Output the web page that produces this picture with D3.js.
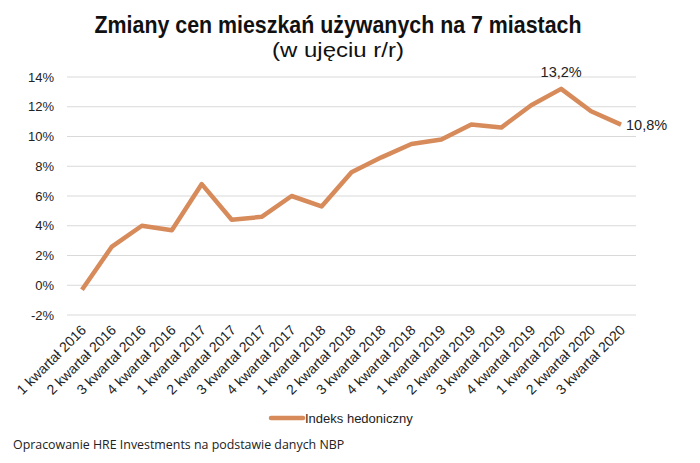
<!DOCTYPE html>
<html>
<head>
<meta charset="utf-8">
<script src="https://cdn.jsdelivr.net/npm/d3@7"></script>
<style>
  body { margin: 0; background: #fff; }
  svg { display: block; }
</style>
</head>
<body>
<svg id="chart" width="700" height="463"></svg>
<script>
const quarters = [
    "1 kwartał 2016", "2 kwartał 2016", "3 kwartał 2016", "4 kwartał 2016",
    "1 kwartał 2017", "2 kwartał 2017", "3 kwartał 2017", "4 kwartał 2017",
    "1 kwartał 2018", "2 kwartał 2018", "3 kwartał 2018", "4 kwartał 2018",
    "1 kwartał 2019", "2 kwartał 2019", "3 kwartał 2019", "4 kwartał 2019",
    "1 kwartał 2020", "2 kwartał 2020", "3 kwartał 2020"
];
const hedonicIndex = [-0.3, 2.6, 4.0, 3.7, 6.8, 4.4, 4.6, 6.0, 5.3, 7.6, 8.6, 9.5, 9.8, 10.8, 10.6, 12.1, 13.2, 11.7, 10.8];
const yTicks = [-2, 0, 2, 4, 6, 8, 10, 12, 14];
const labelledPoints = [16, 18];

const lineColor = "#d78a5a";
const svg = d3.select("#chart");

const margin = { top: 77, right: 64, bottom: 148, left: 67 };
const width = 700 - margin.left - margin.right;
const height = 463 - margin.top - margin.bottom;

const x = d3.scaleBand().domain(quarters).range([margin.left, margin.left + width]);
const y = d3.scaleLinear().domain([-2, 14]).range([margin.top + height, margin.top]);

const fmt = v => (Math.round(v * 10) / 10).toFixed(1).replace(".", ",") + "%";

// Title (condensed look via textLength)
svg.append("text")
    .attr("x", 338).attr("y", 33)
    .attr("text-anchor", "middle")
    .attr("font-family", "'Liberation Sans Narrow', 'Arial Narrow', 'Liberation Sans', Arial, sans-serif")
    .attr("font-weight", "bold")
    .attr("font-size", 24)
    .attr("textLength", 487)
    .attr("lengthAdjust", "spacingAndGlyphs")
    .attr("fill", "#111")
    .text("Zmiany cen mieszkań używanych na 7 miastach");

svg.append("text")
    .attr("x", 338).attr("y", 57)
    .attr("text-anchor", "middle")
    .attr("font-family", "'Liberation Sans Narrow', 'Arial Narrow', 'Liberation Sans', Arial, sans-serif")
    .attr("font-size", 21)
    .attr("textLength", 132)
    .attr("lengthAdjust", "spacingAndGlyphs")
    .attr("fill", "#111")
    .text("(w ujęciu r/r)");

// Grid
svg.append("g")
    .selectAll("line")
    .data(yTicks)
    .join("line")
    .attr("x1", margin.left).attr("x2", margin.left + width)
    .attr("y1", d => y(d)).attr("y2", d => y(d))
    .attr("stroke", "#d9d9d9")
    .attr("stroke-width", 1.2);

// Y axis labels
const yAxis = svg.append("g")
    .attr("transform", `translate(${margin.left - 8},0)`)
    .call(d3.axisLeft(y).tickValues(yTicks).tickSize(0).tickPadding(5).tickFormat(d => d + "%"));
yAxis.select(".domain").remove();
yAxis.selectAll("text")
    .attr("font-family", "'Liberation Sans', Arial, sans-serif")
    .attr("font-size", 13)
    .attr("fill", "#222");

// X axis labels
const xAxis = svg.append("g")
    .attr("transform", `translate(0,${margin.top + height})`)
    .call(d3.axisBottom(x).tickSize(0).tickPadding(0));
xAxis.select(".domain").remove();
xAxis.selectAll("text")
    .attr("font-family", "'Liberation Sans', Arial, sans-serif")
    .attr("font-size", 14)
    .attr("fill", "#222")
    .attr("text-anchor", "end")
    .attr("dy", null)
    .attr("y", 0)
    .attr("transform", "translate(5,16) rotate(-45)");

// Line
const line = d3.line()
    .x((d, i) => x(quarters[i]) + x.bandwidth() / 2)
    .y(d => y(d));

svg.append("path")
    .datum(hedonicIndex)
    .attr("d", line)
    .attr("fill", "none")
    .attr("stroke", lineColor)
    .attr("stroke-width", 4.5)
    .attr("stroke-linejoin", "round");

// Data labels
svg.append("g")
    .selectAll("text")
    .data(labelledPoints)
    .join("text")
    .attr("x", i => x(quarters[i]) + x.bandwidth() / 2 + (i === 18 ? 5 : 0))
    .attr("y", i => i === 18 ? y(hedonicIndex[i]) + 5 : y(hedonicIndex[i]) - 12)
    .attr("text-anchor", i => i === 18 ? "start" : "middle")
    .attr("font-family", "'Liberation Sans', Arial, sans-serif")
    .attr("font-size", 14.5)
    .attr("fill", "#222")
    .text(i => fmt(hedonicIndex[i]));

// Legend
const legend = svg.append("g").attr("transform", "translate(271,418)");
legend.append("line")
    .attr("x1", 0).attr("x2", 32)
    .attr("stroke", lineColor)
    .attr("stroke-width", 4.5)
    .attr("stroke-linecap", "round");
legend.append("text")
    .attr("x", 34).attr("y", 4.5)
    .attr("font-family", "'Liberation Sans', Arial, sans-serif")
    .attr("font-size", 13)
    .attr("fill", "#222")
    .text("Indeks hedoniczny");

// Source note
svg.append("text")
    .attr("x", 13).attr("y", 449)
    .attr("font-family", "'Open Sans', sans-serif")
    .attr("font-size", 12.4)
    .attr("fill", "#222")
    .text("Opracowanie HRE Investments na podstawie danych NBP");
</script>
</body>
</html>
